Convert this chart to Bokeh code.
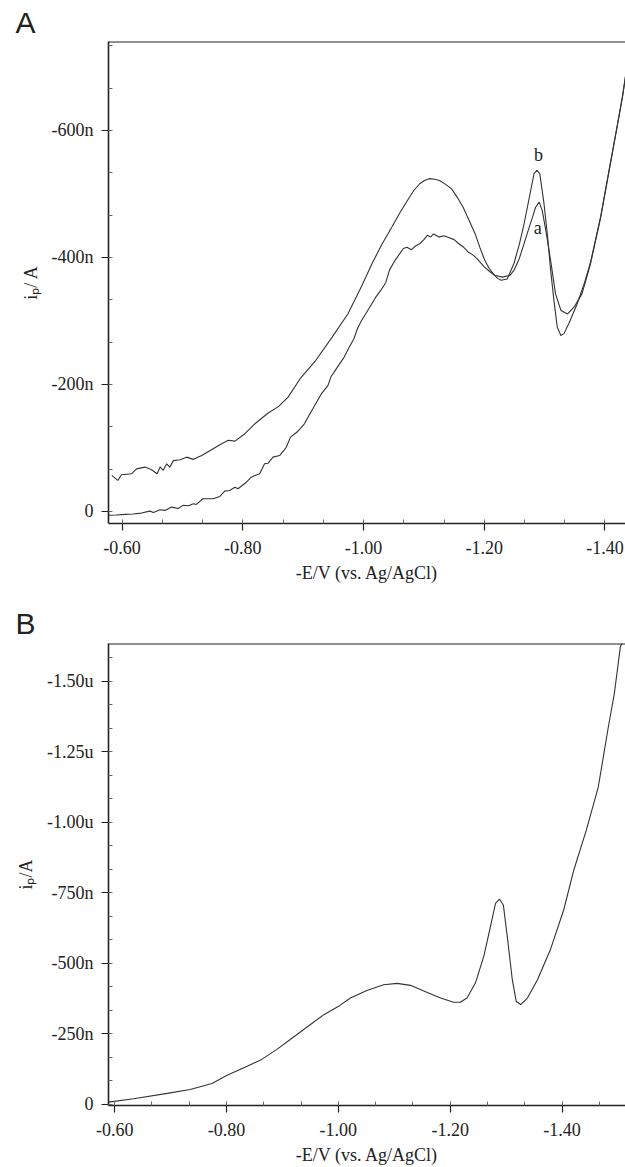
import numpy as np
from bokeh.plotting import figure
from bokeh.models import Range1d, FixedTicker, NumeralTickFormatter, Span
from bokeh.layouts import column
from bokeh.core.properties import value
from bokeh.embed import file_html
from bokeh.resources import INLINE

# ---------------- data (E in V, i in nA) ----------------
# Panel A, curve a (lower, noisy)
e_a = [-0.577, -0.590, -0.605, -0.618, -0.632, -0.646, -0.652, -0.663, -0.671, -0.682,
       -0.693, -0.701, -0.710, -0.718, -0.723, -0.734, -0.751, -0.762, -0.770, -0.778,
       -0.787, -0.792, -0.806, -0.814, -0.820, -0.828, -0.836, -0.842, -0.850, -0.861,
       -0.872, -0.879, -0.890, -0.902, -0.912, -0.921, -0.930, -0.941, -0.946, -0.951,
       -0.960, -0.968, -0.976, -0.984, -0.990, -0.997, -1.008, -1.020, -1.030, -1.037,
       -1.043, -1.052, -1.060, -1.066, -1.072, -1.079, -1.086, -1.093, -1.100, -1.106,
       -1.111, -1.116, -1.125, -1.133, -1.142, -1.150, -1.158, -1.166, -1.174, -1.181,
       -1.188, -1.200, -1.210, -1.217, -1.230, -1.243, -1.249, -1.258, -1.266, -1.274,
       -1.280, -1.285, -1.291, -1.296, -1.302, -1.310, -1.318, -1.327, -1.338, -1.349,
       -1.362, -1.376, -1.393, -1.409, -1.420, -1.429, -1.434]
i_a = [6, 5.5, 4.7, 4, 2.6, -0.5, 1.6, -2.6, -1.6, -6.8,
       -4.7, -9.5, -9, -12, -11, -20, -20, -23.6, -32, -33,
       -38, -35.7, -46, -54, -56.7, -59.4, -75, -76, -85.5, -88,
       -101, -117, -125, -138, -155, -170, -185, -198, -212, -219,
       -232, -243, -258, -272, -288, -301, -318, -337, -350, -361,
       -380, -395, -406, -414, -416, -412, -418, -421.5, -428, -435,
       -432, -437, -432, -434, -431, -428, -421.5, -416, -408, -404,
       -398, -385, -377, -372, -369, -372, -379.5, -398, -421.6, -446,
       -463.5, -479, -487, -474, -442.5, -395, -343, -316.5, -311, -322,
       -343, -390, -463.5, -547.6, -605, -652.5, -684]

# Panel A, curve b (upper)
e_b = [-0.583, -0.593, -0.599, -0.616, -0.624, -0.638, -0.649, -0.658, -0.663, -0.668,
       -0.674, -0.679, -0.685, -0.696, -0.707, -0.718, -0.732, -0.748, -0.765, -0.776,
       -0.787, -0.803, -0.820, -0.842, -0.859, -0.875, -0.895, -0.921, -0.948, -0.974,
       -0.997, -1.014, -1.030, -1.047, -1.060, -1.073, -1.083, -1.093, -1.101, -1.109,
       -1.118, -1.126, -1.136, -1.146, -1.155, -1.165, -1.175, -1.185, -1.193, -1.201,
       -1.208, -1.215, -1.222, -1.228, -1.238, -1.249, -1.258, -1.266, -1.277, -1.2825,
       -1.287, -1.292, -1.299, -1.305, -1.310, -1.3155, -1.321, -1.327, -1.332, -1.340,
       -1.354, -1.366, -1.376, -1.393, -1.409, -1.420, -1.429, -1.434]
i_b = [-56.7, -48.8, -57.8, -59.4, -67, -69.8, -65.7, -59.4, -70, -64.6,
       -75, -69.8, -80, -81.4, -85.5, -82, -88, -97, -106.6, -112,
       -110.7, -122, -138, -155, -165, -180, -209, -238, -274.5, -311,
       -355, -390, -420, -448, -470, -490, -505, -516, -521, -524,
       -523, -521, -515, -508, -495, -479, -458, -437, -415, -395,
       -383, -374, -367, -364, -366, -390, -420, -453, -505.5, -532,
       -537, -532, -484.6, -432, -379.5, -332, -290, -277, -280, -295.6,
       -327, -360, -392, -465, -549, -606, -654, -686]

# Panel B
e_B = [-0.589, -0.634, -0.694, -0.735, -0.774, -0.801, -0.831, -0.861, -0.890, -0.914,
       -0.941, -0.974, -1.002, -1.0215, -1.051, -1.081, -1.105, -1.129, -1.159, -1.183,
       -1.206, -1.218, -1.230, -1.245, -1.260, -1.272, -1.281, -1.288, -1.295, -1.302,
       -1.311, -1.318, -1.326, -1.338, -1.356, -1.379, -1.403, -1.421, -1.4435, -1.4648,
       -1.4827, -1.4934, -1.5041, -1.5075]
i_B = [-8, -20, -39, -53, -74, -103, -130, -157, -195, -230,
       -270, -318, -350, -377, -404, -424, -429, -422, -397, -377,
       -362, -362, -377, -430, -525, -631, -713, -728, -707, -595,
       -442, -365, -354, -377, -442, -548, -690, -831, -973, -1126,
       -1338, -1456, -1621, -1640]

curve_labels = ["b", "a"]
curve_label_e = [-1.290, -1.2886]
curve_label_i = [-562, -446]

x_ticks = [-0.6, -0.8, -1.0, -1.2, -1.4]
y_ticks_A = [0, -200, -400, -600]
y_labels_A = ["0", "-200n", "-400n", "-600n"]
y_ticks_B = [0, -250, -500, -750, -1000, -1250, -1500]
y_labels_B = ["0", "-250n", "-500n", "-750n", "-1.00u", "-1.25u", "-1.50u"]

INK = "#222222"
SERIF = "Liberation Serif"


def style_axes(p, y_ticks, y_labels, y_step):
    x_minor = list(np.arange(-0.4, -1.7, -0.2 / 3))
    y_minor = list(np.arange(y_step * 2, -y_step * 9, -y_step / 3))
    p.xaxis.ticker = FixedTicker(ticks=x_ticks, minor_ticks=x_minor)
    p.xaxis.formatter = NumeralTickFormatter(format="0.00")
    p.yaxis.ticker = FixedTicker(ticks=y_ticks, minor_ticks=y_minor)
    p.yaxis.major_label_overrides = dict(zip(y_ticks, y_labels))
    for ax in (p.xaxis[0], p.yaxis[0]):
        ax.axis_line_color = INK
        ax.axis_line_width = 1.6
        ax.major_tick_in = 0
        ax.major_tick_out = 7
        ax.major_tick_line_color = INK
        ax.major_tick_line_width = 1.2
        ax.minor_tick_in = 4
        ax.minor_tick_out = 0
        ax.minor_tick_line_color = "#666666"
        ax.minor_tick_line_width = 1
        ax.major_label_text_font = SERIF
        ax.major_label_text_font_size = "18px"
        ax.major_label_text_color = INK
        ax.axis_label_text_font = SERIF
        ax.axis_label_text_font_size = "18px"
        ax.axis_label_text_font_style = "normal"
        ax.axis_label_text_color = INK
    p.xaxis.major_label_standoff = 10
    p.yaxis.major_label_standoff = 8
    p.xaxis.axis_label_standoff = 6
    p.yaxis.axis_label_standoff = 8
    p.xgrid.visible = False
    p.ygrid.visible = False
    p.outline_line_color = None
    p.title.text_font = "Liberation Sans"
    p.title.text_font_size = "30px"
    p.title.text_font_style = "normal"
    p.title.text_color = INK
    p.title.align = "left"


# ---------------- Panel A ----------------
pA = figure(width=625, height=595, output_backend="svg", toolbar_location=None,
            x_range=Range1d(-0.5775, -1.434), y_range=Range1d(19, -740),
            min_border_left=107, min_border_right=0, min_border_top=41, min_border_bottom=72,
            title="A")
style_axes(pA, y_ticks_A, y_labels_A, 200)
pA.title.offset = -93
pA.title.standoff = 5
pA.xaxis.axis_label = "-E/V (vs. Ag/AgCl)"
pA.yaxis.axis_label = "i\u209a/ A"
pA.line(e_a, i_a, line_color="#333333", line_width=1.1)
pA.line(e_b, i_b, line_color="#333333", line_width=1.1)
pA.text(curve_label_e, curve_label_i, text=curve_labels, text_font=value(SERIF),
        text_font_size="18px", text_align="center", text_baseline="middle", text_color=INK)
pA.add_layout(Span(location=-740, dimension="width", line_color=INK, line_width=2))

# ---------------- Panel B ----------------
pB = figure(width=625, height=572, output_backend="svg", toolbar_location=None,
            x_range=Range1d(-0.589, -1.5134), y_range=Range1d(4, -1634),
            min_border_left=108, min_border_right=0, min_border_top=48, min_border_bottom=61,
            title="B")
style_axes(pB, y_ticks_B, y_labels_B, 250)
pB.title.offset = -93
pB.title.standoff = 7
pB.xaxis.axis_label = "-E/V (vs. Ag/AgCl)"
pB.yaxis.axis_label = "i\u209a/A"
pB.line(e_B, i_B, line_color="#333333", line_width=1.1)
pB.add_layout(Span(location=-1634, dimension="width", line_color=INK, line_width=2))

layout = column(pA, pB, spacing=0)
open("out.html", "w").write(file_html(layout, INLINE))
